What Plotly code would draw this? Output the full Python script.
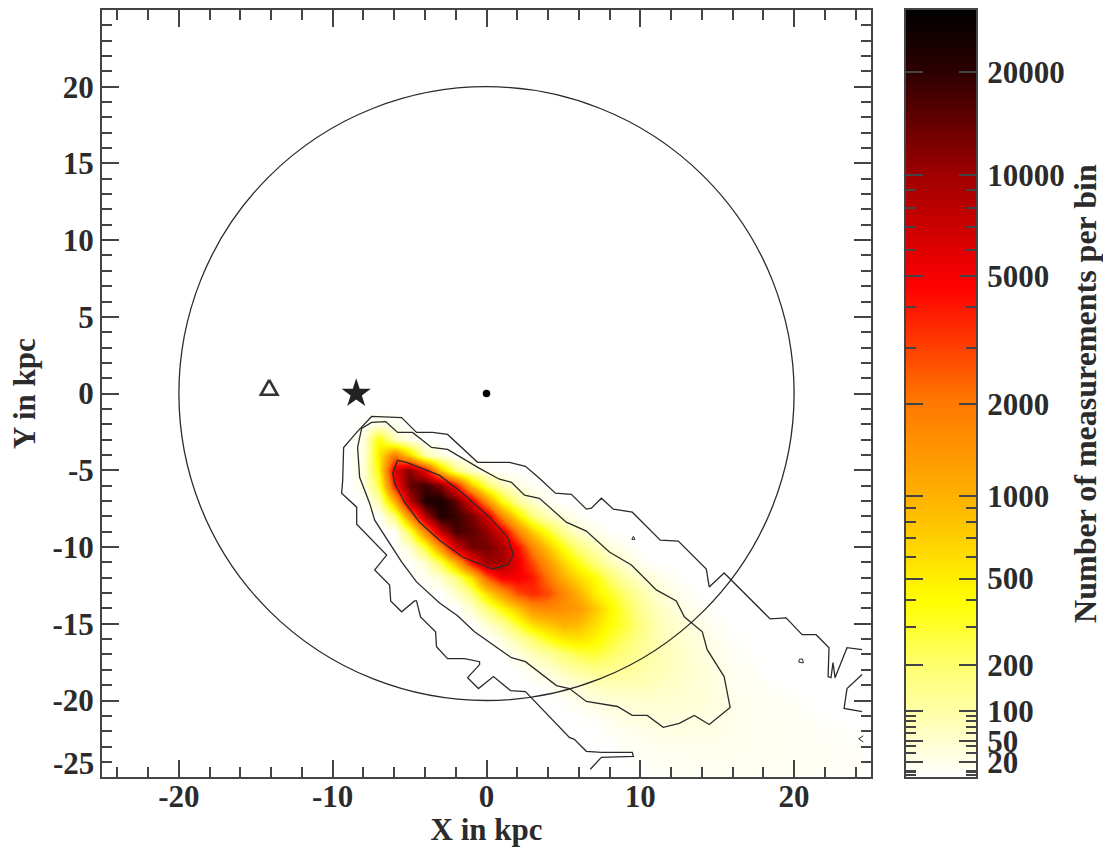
import math
import numpy as np
import plotly.graph_objects as go

FONT = "Liberation Serif"
INK = "#2b2b2b"
FRAME = "#444444"

# Density: counts per bin on a 1 kpc lattice.
grid_x = list(range(-9, 25))
grid_y = [-1 - j for j in range(25)]
floor_count = 8
row_first_x = {
    -2: -8, -3: -8, -4: -8, -5: -8, -6: -8, -7: -7, -8: -6, -9: -5, -10: -5, -11: -4, -12: -4,
    -13: -2, -14: -1, -15: 0, -16: 1, -17: 2, -18: 3, -19: 4, -20: 5, -21: 7, -22: 8, -23: 9,
    -24: 10, -25: 11,
}
row_counts = {
    -2: [10, 25, 15],
    -3: [25, 400, 80, 20],
    -4: [30, 500, 2000, 700, 90, 25],
    -5: [35, 400, 6000, 12000, 5000, 800, 160, 50, 15],
    -6: [25, 250, 4000, 14000, 18000, 12000, 4500, 800, 220, 70, 25, 12],
    -7: [80, 1000, 8000, 22000, 24000, 15000, 6000, 1500, 400, 120, 45, 15],
    -8: [170, 1500, 9000, 22000, 19000, 13000, 7000, 1700, 550, 170, 70, 30, 12],
    -9: [250, 1800, 8000, 17000, 15000, 11000, 6000, 1800, 700, 300, 120, 50, 20],
    -10: [40, 300, 1500, 7000, 13000, 13000, 10000, 4500, 1700, 750, 350, 160, 80, 35, 15],
    -11: [50, 250, 1000, 4500, 10000, 10000, 5500, 2800, 1300, 650, 350, 170, 80, 40, 15],
    -12: [15, 50, 160, 600, 2500, 5000, 5000, 4000, 2000, 1000, 600, 400, 200, 90, 50, 25, 12],
    -13: [50, 160, 600, 1300, 2800, 3500, 2800, 1700, 1000, 500, 320, 190, 100, 50, 25, 12],
    -14: [50, 170, 400, 800, 1500, 1700, 1500, 1300, 800, 450, 250, 130, 70, 40, 20, 12],
    -15: [40, 110, 300, 600, 800, 1000, 900, 600, 400, 270, 160, 90, 55, 35, 20, 12],
    -16: [30, 90, 190, 350, 500, 550, 450, 300, 210, 140, 90, 60, 42, 28, 15, 10],
    -17: [25, 70, 110, 180, 250, 280, 220, 160, 115, 85, 65, 48, 34, 20, 12, 9],
    -18: [20, 40, 75, 110, 140, 130, 115, 95, 80, 65, 50, 38, 24, 14, 11],
    -19: [12, 25, 45, 65, 75, 75, 75, 65, 55, 48, 38, 26, 18, 14, 11],
    -20: [10, 20, 30, 40, 48, 50, 50, 46, 42, 36, 28, 22, 16, 13, 12, 11],
    -21: [12, 20, 26, 32, 34, 34, 32, 28, 24, 20, 16, 14, 13, 12, 11],
    -22: [11, 15, 20, 24, 26, 26, 25, 22, 20, 17, 15, 14, 13, 12, 11, 10],
    -23: [11, 14, 16, 18, 20, 20, 19, 18, 17, 15, 14, 13, 12, 11, 11, 10],
    -24: [10, 12, 14, 15, 16, 16, 16, 15, 14, 13, 13, 12, 12, 11, 11, 10],
    -25: [10, 12, 13, 14, 14, 14, 14, 13, 13, 12, 12, 11, 11, 10],
}

# Contours, in kpc
outer_x = [24.42, 23.44, 22.66, 22.53, 22.40, 22.21, 22.27, 21.43, 20.52, 19.48, 18.44, 15.45, 14.48, 14.29,
           12.47, 11.30, 9.48, 8.25, 7.47, 6.82, 6.49, 5.52, 4.48, 3.44, 2.53, 1.49, -0.58, -1.62, -2.53,
           -3.51, -4.55, -5.52, -7.47, -8.44, -9.29, -9.35, -9.42, -8.44, -8.44, -6.49, -7.27, -6.30,
           -6.23, -5.52, -4.68, -4.55, -4.29, -3.31, -3.25, -2.53, -1.43, -0.45, -0.45, -1.23, -0.52,
           0.45, 1.56, 2.53, 5.39, 5.71, 6.49, 7.47, 9.48, 9.55, 7.47, 6.75]
outer_y = [-16.69, -16.56, -18.51, -17.53, -18.51, -18.44, -16.56, -15.71, -15.71, -14.61, -14.68, -11.69,
           -12.60, -11.43, -9.61, -9.55, -7.73, -7.53, -6.82, -7.47, -7.53, -6.56, -6.49, -5.52, -4.74,
           -4.48, -4.48, -3.51, -2.66, -2.53, -2.53, -1.56, -1.49, -2.53, -3.51, -5.65, -6.49, -7.40,
           -8.51, -10.52, -11.49, -12.47, -13.51, -14.22, -13.51, -13.51, -14.55, -15.52, -16.49, -17.27,
           -17.27, -17.47, -17.66, -18.51, -19.22, -18.44, -19.35, -19.42, -22.40, -22.53, -23.31, -23.38,
           -23.38, -23.64, -23.70, -24.48]
edge_piece_x = [24.42, 23.44, 23.25, 24.42]
edge_piece_y = [-18.31, -19.22, -20.52, -20.72]
nick_x = [24.5, 24.2, 24.5]
nick_y = [-22.3, -22.5, -22.7]
speck_a_x = [9.45, 9.65, 9.55, 9.45]
speck_a_y = [-9.50, -9.50, -9.30, -9.50]
speck_b_x = [20.30, 20.60, 20.55, 20.35, 20.30]
speck_b_y = [-17.50, -17.55, -17.30, -17.30, -17.50]

middle_x = [-6.56, -7.47, -8.12, -8.38, -8.25, -7.60, -7.27, -6.30, -5.52, -4.55, -3.05, -1.88, -0.78, 1.62,
            2.53, 4.55, 5.39, 6.49, 8.51, 9.48, 10.45, 11.49, 12.53, 13.51, 14.48, 15.84, 15.45, 14.35,
            14.03, 12.86, 12.34, 11.04, 9.42, 7.99, 6.49, 5.19, 3.44, 2.47, 1.62, 0.84, -0.45, -2.53,
            -3.57, -4.81, -5.78, -6.56]
middle_y = [-1.82, -1.88, -2.27, -3.51, -5.45, -7.14, -8.25, -9.74, -10.97, -12.27, -13.64, -14.48, -15.52,
            -17.21, -17.47, -19.03, -19.22, -20.06, -20.39, -20.97, -20.97, -21.75, -21.49, -20.97, -21.56,
            -20.45, -18.44, -16.69, -15.52, -14.55, -13.51, -12.79, -11.17, -10.32, -8.96, -8.38, -6.82,
            -6.62, -5.78, -5.58, -4.87, -3.64, -3.51, -2.53, -2.53, -1.82]

inner_x = [-5.20, -5.78, -6.10, -5.97, -5.33, -4.35, -3.05, -1.56, 0.39, 1.36, 1.75, 1.36, 0.19, -1.56, -3.05,
           -4.35, -5.20]
inner_y = [-4.48, -4.35, -5.20, -5.84, -7.08, -8.38, -9.55, -10.65, -11.43, -11.17, -10.52, -9.35, -8.05, -6.49,
           -5.33, -4.81, -4.48]

# Reference markers, in kpc
centre_xy = (0.0, 0.0)
sun_xy = (-8.47, 0.0)
triangle_x = [-14.13, -14.67, -13.59, -14.13]
triangle_y = [0.89, -0.08, -0.08, 0.89]
circle_radius = 20

# Colour bar scale: counts and the bar's own non-logarithmic units (0-100)
scale_counts = [8, 10, 20, 50, 100, 200, 500, 1000, 2000, 5000, 10000, 20000, 30000]
scale_units = [0, 0.65, 1.95, 4.7, 8.6, 14.6, 25.9, 36.7, 48.6, 65.3, 78.5, 91.9, 100]
bar_major = [20000, 10000, 5000, 2000, 1000, 500, 200, 100, 50, 20]
bar_major_text = ["20000", "10000", "5000", "2000", "1000", "500", "200", "100", "50", "20"]
bar_minor = [9000, 8000, 7000, 6000, 4000, 3000, 900, 800, 700, 600, 400, 300,
             90, 80, 70, 60, 40, 30, 11, 10, 9]
colour_stops = [
    [0.0, "#ffffff"], [0.086, "#ffffa8"], [0.146, "#ffff70"], [0.23, "#ffff00"],
    [0.367, "#ffb000"], [0.49, "#ff7800"], [0.64, "#ff0000"], [0.785, "#a00000"],
    [0.92, "#2c0000"], [1.0, "#000000"],
]


def scale(v):
    return float(np.interp(math.log10(v), np.log10(scale_counts), scale_units))


lookup = {y: {} for y in grid_y}
for y, vals in row_counts.items():
    for i, v in enumerate(vals):
        lookup[y][row_first_x[y] + i] = v
z = [[scale(lookup[y].get(x, floor_count)) for x in grid_x] for y in grid_y]
ramp = np.linspace(0, 100, 256)

W, H = 1103, 847
fig = go.Figure()
fig.add_trace(go.Heatmap(x=grid_x, y=grid_y, z=z, zmin=0, zmax=100, colorscale=colour_stops,
                         zsmooth="best", showscale=False, xaxis="x", yaxis="y"))
fig.add_trace(go.Heatmap(x=[0, 1], y=ramp, z=[[t, t] for t in ramp], zmin=0, zmax=100,
                         colorscale=colour_stops, zsmooth="best", showscale=False, xaxis="x2", yaxis="y2"))

for xs, ys, width in [(outer_x, outer_y, 1.3), (edge_piece_x, edge_piece_y, 1.3), (nick_x, nick_y, 1.0),
                      (speck_a_x, speck_a_y, 1.0), (speck_b_x, speck_b_y, 1.0),
                      (middle_x, middle_y, 1.3), (inner_x, inner_y, 1.3)]:
    fig.add_trace(go.Scatter(x=xs, y=ys, mode="lines", line=dict(color=INK, width=width), showlegend=False,
                             hoverinfo="skip", xaxis="x", yaxis="y"))

fig.add_trace(go.Scatter(x=[centre_xy[0]], y=[centre_xy[1]], mode="markers", showlegend=False,
                         marker=dict(symbol="circle", size=7.5, color="#000000")))
fig.add_trace(go.Scatter(x=[sun_xy[0]], y=[sun_xy[1]], mode="markers", showlegend=False,
                         marker=dict(symbol="star", size=22, color="#222222", line=dict(width=0))))
fig.add_trace(go.Scatter(x=triangle_x, y=triangle_y, mode="lines", showlegend=False,
                         line=dict(color="#333333", width=2.6)))

axis_font = dict(family=FONT, size=31, color=INK, weight="bold")
title_font = dict(family=FONT, size=31, color=INK, weight="bold")
common = dict(showgrid=False, zeroline=False, showline=True, linecolor=FRAME, linewidth=2,
              mirror="allticks", ticks="inside", tickcolor=FRAME, tickwidth=1.6, ticklen=17,
              tickfont=axis_font)
minor_common = dict(ticks="inside", ticklen=10, tickwidth=1.6, tickcolor=FRAME, showgrid=False)
TOP, BOTTOM = 10, 780
y_domain = [(H - BOTTOM) / H, (H - TOP) / H]
fig.update_layout(
    width=W, height=H, margin=dict(l=0, r=0, t=0, b=0), paper_bgcolor="white", plot_bgcolor="white",
    showlegend=False, font=dict(family=FONT),
    xaxis=dict(domain=[102 / W, 871 / W], range=[-25, 25], tickmode="array", tickvals=[-20, -10, 0, 10, 20],
               ticktext=["-20", "-10", "0", "10", "20"], ticklabelstandoff=-9,
               minor=dict(dtick=2, tick0=0, **minor_common),
               title=dict(text="X in kpc", font=title_font, standoff=10), anchor="y", **common),
    yaxis=dict(domain=y_domain, range=[-25, 25], tickmode="array",
               tickvals=[-20, -15, -10, -5, 0, 5, 10, 15, 20],
               ticktext=["-20", "-15", "-10", "-5", "0", "5", "10", "15", "20"],
               minor=dict(dtick=1, tick0=0, **minor_common),
               title=dict(text="Y in kpc", font=title_font, standoff=8), anchor="x", **common),
    xaxis2=dict(domain=[906 / W, 976 / W], range=[0, 1], showticklabels=False, showgrid=False, zeroline=False,
                showline=True, linecolor=FRAME, linewidth=2, mirror=True, ticks="", anchor="y2"),
    yaxis2=dict(domain=y_domain, range=[0, 100], side="right", tickmode="array", ticklabelstandoff=3,
                tickvals=[scale(v) for v in bar_major], ticktext=bar_major_text,
                minor=dict(tickmode="array", tickvals=[scale(v) for v in bar_minor], **minor_common),
                title=dict(text="Number of measurements per bin",
                           font=dict(family=FONT, size=32, color=INK, weight="bold"), standoff=14),
                anchor="x2", **common),
    shapes=[dict(type="circle", xref="x", yref="y", x0=-circle_radius, x1=circle_radius, y0=-circle_radius,
                 y1=circle_radius, line=dict(color=INK, width=1.3), layer="above")],
    annotations=[dict(x=-25, y=-24.1, xref="x", yref="y", text="-25", showarrow=False, xanchor="right",
                      xshift=-6, font=axis_font)],
)

fig.write_html("out.html", config=dict(displayModeBar=False), post_script="document.body.style.margin='0';")
